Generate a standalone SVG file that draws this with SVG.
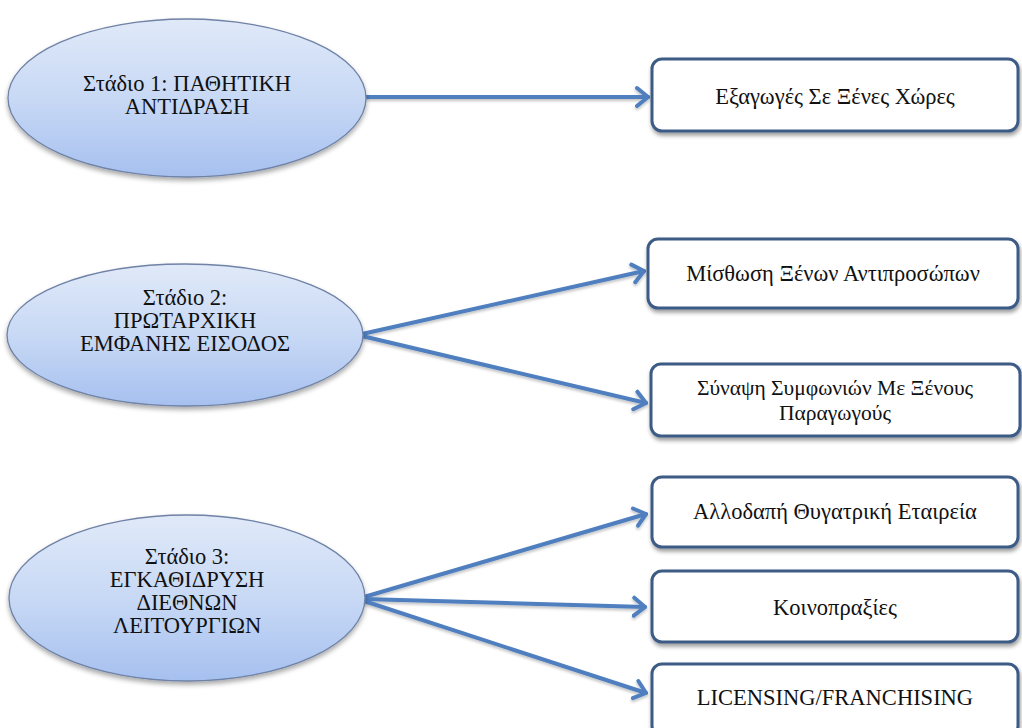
<svg xmlns="http://www.w3.org/2000/svg" width="1022" height="728" viewBox="0 0 1022 728">
<style>
.lbl{font-family:"Liberation Serif","Times New Roman",serif;font-size:22.5px;fill:#111111;text-anchor:middle}
.sm{font-size:21.5px}
.ell{fill:url(#eg);stroke:#6f82a6;stroke-width:1.3;filter:url(#esh)}
.box{fill:#ffffff;stroke:#3d5b85;stroke-width:3;filter:url(#bsh)}
.con{fill:none;stroke:#4f7fbf;stroke-width:4;stroke-linecap:round;marker-end:url(#ah);filter:url(#csh)}
</style>
<defs>
<linearGradient id="eg" x1="0" y1="0" x2="0" y2="1">
<stop offset="0" stop-color="#e0e9f8"/>
<stop offset="0.5" stop-color="#c8d9f5"/>
<stop offset="1" stop-color="#a6c0ef"/>
</linearGradient>
<filter id="esh" x="-10%" y="-10%" width="120%" height="130%">
<feGaussianBlur in="SourceAlpha" stdDeviation="2.5"/>
<feOffset dx="0" dy="3" result="b"/>
<feComponentTransfer><feFuncA type="linear" slope="0.35"/></feComponentTransfer>
<feMerge><feMergeNode/><feMergeNode in="SourceGraphic"/></feMerge>
</filter>
<filter id="bsh" x="-5%" y="-15%" width="110%" height="140%">
<feGaussianBlur in="SourceAlpha" stdDeviation="2"/>
<feOffset dx="1" dy="3" result="b"/>
<feComponentTransfer><feFuncA type="linear" slope="0.4"/></feComponentTransfer>
<feMerge><feMergeNode/><feMergeNode in="SourceGraphic"/></feMerge>
</filter>
<filter id="csh" filterUnits="userSpaceOnUse" x="0" y="0" width="1022" height="728">
<feGaussianBlur in="SourceAlpha" stdDeviation="1.5"/>
<feOffset dx="0" dy="2" result="b"/>
<feComponentTransfer><feFuncA type="linear" slope="0.25"/></feComponentTransfer>
<feMerge><feMergeNode/><feMergeNode in="SourceGraphic"/></feMerge>
</filter>
<marker id="ah" markerUnits="userSpaceOnUse" markerWidth="24" markerHeight="24" refX="13" refY="10" orient="auto" viewBox="0 0 24 20">
<path d="M2,1 L13,10 L2,19" fill="none" stroke="#4f7fbf" stroke-width="4" stroke-linecap="round" stroke-linejoin="round"/>
</marker>
<clipPath id="clip3"><rect x="651" y="364" width="369" height="72" rx="10"/></clipPath>
</defs>
<rect width="1022" height="728" fill="#ffffff"/>

<g id="connectors">
<line class="con" x1="366" y1="97" x2="648" y2="97"/>
<line class="con" x1="362" y1="334" x2="644" y2="271"/>
<line class="con" x1="362" y1="336" x2="646" y2="403"/>
<line class="con" x1="364" y1="597" x2="646" y2="514"/>
<line class="con" x1="364" y1="599" x2="645" y2="607"/>
<line class="con" x1="364" y1="601" x2="646" y2="693"/>
</g>

<g id="stage1">
<ellipse class="ell" cx="187" cy="98" rx="179" ry="79"/>
<text class="lbl" x="187" y="91">Στάδιο 1: ΠΑΘΗΤΙΚΗ</text>
<text class="lbl" x="187" y="114">ΑΝΤΙΔΡΑΣΗ</text>
</g>
<g id="stage2">
<ellipse class="ell" cx="185" cy="335" rx="178" ry="71"/>
<text class="lbl" x="185" y="305">Στάδιο 2:</text>
<text class="lbl" x="185" y="328">ΠΡΩΤΑΡΧΙΚΗ</text>
<text class="lbl" x="185" y="351">ΕΜΦΑΝΗΣ ΕΙΣΟΔΟΣ</text>
</g>
<g id="stage3">
<ellipse class="ell" cx="187" cy="598" rx="178" ry="83"/>
<text class="lbl" x="187" y="564">Στάδιο 3:</text>
<text class="lbl" x="187" y="587">ΕΓΚΑΘΙΔΡΥΣΗ</text>
<text class="lbl" x="187" y="610">ΔΙΕΘΝΩΝ</text>
<text class="lbl" x="187" y="633">ΛΕΙΤΟΥΡΓΙΩΝ</text>
</g>

<g id="box1">
<rect class="box" x="652" y="59" width="366" height="72" rx="10"/>
<text class="lbl" x="835" y="104">Εξαγωγές Σε Ξένες Χώρες</text>
</g>
<g id="box2">
<rect class="box" x="648" y="239" width="370" height="69" rx="10"/>
<text class="lbl" x="833" y="281">Μίσθωση Ξένων Αντιπροσώπων</text>
</g>
<g id="box3">
<rect class="box" x="651" y="364" width="369" height="72" rx="10"/>
<g clip-path="url(#clip3)">
<text class="lbl sm" x="835" y="395">Σύναψη Συμφωνιών Με Ξένους</text>
<text class="lbl sm" x="835" y="420">Παραγωγούς</text>
</g>
</g>
<g id="box4">
<rect class="box" x="652" y="477" width="366" height="70" rx="10"/>
<text class="lbl" x="835" y="519">Αλλοδαπή Θυγατρική Εταιρεία</text>
</g>
<g id="box5">
<rect class="box" x="652" y="571" width="366" height="71" rx="10"/>
<text class="lbl" x="835" y="615">Κοινοπραξίες</text>
</g>
<g id="box6">
<rect class="box" x="652" y="664" width="366" height="72" rx="10"/>
<text class="lbl" x="835" y="705">LICENSING/FRANCHISING</text>
</g>
</svg>
